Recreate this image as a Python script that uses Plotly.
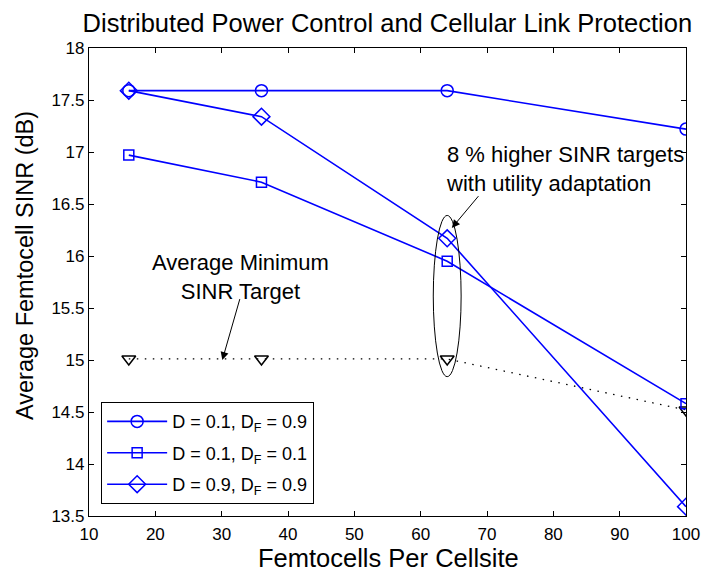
import plotly.graph_objects as go

x_vals = [16, 36, 64, 100]
sinr_d01_df09 = [17.59, 17.59, 17.59, 17.22]
sinr_d01_df01 = [16.97, 16.71, 15.95, 14.58]
sinr_d09_df09 = [17.59, 17.34, 16.17, 13.59]
min_target = [15.01, 15.01, 15.01, 14.52]

names = ["D = 0.1, D<sub>F</sub> = 0.9", "D = 0.1, D<sub>F</sub> = 0.1", "D = 0.9, D<sub>F</sub> = 0.9"]
x_ticks = list(range(10, 101, 10))
y_ticks = [13.5, 14, 14.5, 15, 15.5, 16, 16.5, 17, 17.5, 18]

FONT = "Liberation Sans, Arial, Helvetica, sans-serif"
BLUE = "#0000ff"

fig = go.Figure()
fig.add_trace(go.Scatter(x=x_vals, y=min_target, mode="lines+markers", showlegend=False,
                         line=dict(color="black", width=1.3, dash="1.5px,6.5px"),
                         marker=dict(symbol="triangle-down-open", size=12, color="black", line=dict(width=1.5))))
fig.add_trace(go.Scatter(x=x_vals, y=sinr_d01_df09, mode="lines+markers", name=names[0], legendgroup="a",
                         line=dict(color=BLUE, width=1.6),
                         marker=dict(symbol="circle-open", size=12, color=BLUE, line=dict(width=1.5))))
fig.add_trace(go.Scatter(x=x_vals, y=sinr_d01_df01, mode="lines+markers", name=names[1], legendgroup="b",
                         line=dict(color=BLUE, width=1.6),
                         marker=dict(symbol="square-open", size=10, color=BLUE, line=dict(width=1.5))))
fig.add_trace(go.Scatter(x=x_vals, y=sinr_d09_df09, mode="lines+markers", name=names[2], legendgroup="c",
                         line=dict(color=BLUE, width=1.6),
                         marker=dict(symbol="diamond-open", size=13, color=BLUE, line=dict(width=1.5))))

# ellipse
fig.add_shape(type="circle", xref="x", yref="y", x0=61.9, x1=66.1, y0=14.84, y1=16.39,
              line=dict(color="black", width=1))

fig.add_annotation(x=30.1, y=15.0, ax=32.8, ay=15.6, xref="x", yref="y", axref="x", ayref="y",
                   text="", showarrow=True, arrowhead=2, arrowsize=1.6, arrowwidth=1, arrowcolor="black")
fig.add_annotation(x=32.8, y=15.80, xref="x", yref="y", text="Average Minimum<br>SINR Target",
                   showarrow=False, font=dict(family=FONT, size=22, color="black"), align="center")
fig.add_annotation(x=64.7, y=16.27, ax=68.9, ay=16.59, xref="x", yref="y", axref="x", ayref="y",
                   text="", showarrow=True, arrowhead=2, arrowsize=1.6, arrowwidth=1, arrowcolor="black")
fig.add_annotation(x=81.7, y=16.835, xref="x", yref="y", text="8 % higher SINR targets<br>with utility adaptation",
                   showarrow=False, font=dict(family=FONT, size=22, color="black"), align="left")

# axis titles as annotations (paper coordinates of a 89..686 x 48..516 plot box)
fig.add_annotation(x=(25 - 89) / 597, y=(516 - 266) / 468, xref="paper", yref="paper",
                   xanchor="center", yanchor="middle",
                   text="Average Femtocell SINR (dB)", showarrow=False, textangle=-90,
                   font=dict(family=FONT, size=23.5, color="black"))
fig.add_annotation(x=(388.5 - 89) / 597, y=(516 - 558) / 468, xref="paper", yref="paper",
                   xanchor="center", yanchor="middle",
                   text="Femtocells Per Cellsite", showarrow=False,
                   font=dict(family=FONT, size=25.5, color="black"))

fig.update_layout(
    width=703, height=572,
    margin=dict(l=89, r=17, t=48, b=56),
    paper_bgcolor="white", plot_bgcolor="white",
    font=dict(family=FONT, color="black"),
    title=dict(text="Distributed Power Control and Cellular Link Protection", x=0.551, xanchor="center",
               y=0.96, yanchor="middle", font=dict(size=25.5)),
    legend=dict(x=0.02, y=0.2436, xanchor="left", yanchor="top", bgcolor="white",
                bordercolor="black", borderwidth=1.2, font=dict(size=18), tracegroupgap=5,
                itemwidth=60, traceorder="grouped"),
    showlegend=True,
)

fig.update_xaxes(range=[10, 100], tickvals=x_ticks, ticks="inside", ticklen=5, tickcolor="black",
                 showline=True, linecolor="black", linewidth=1.2, mirror="ticks", showgrid=False, zeroline=False,
                 tickfont=dict(size=17), ticklabelstandoff=2, automargin=False)
fig.update_yaxes(range=[13.5, 18], tickvals=y_ticks, ticktext=[f"{v:g}" for v in y_ticks], ticks="inside", ticklen=5,
                 tickcolor="black", showline=True, linecolor="black", linewidth=1.2, mirror="ticks", showgrid=False,
                 zeroline=False, tickfont=dict(size=17), automargin=False)

fig.write_html("out.html")
